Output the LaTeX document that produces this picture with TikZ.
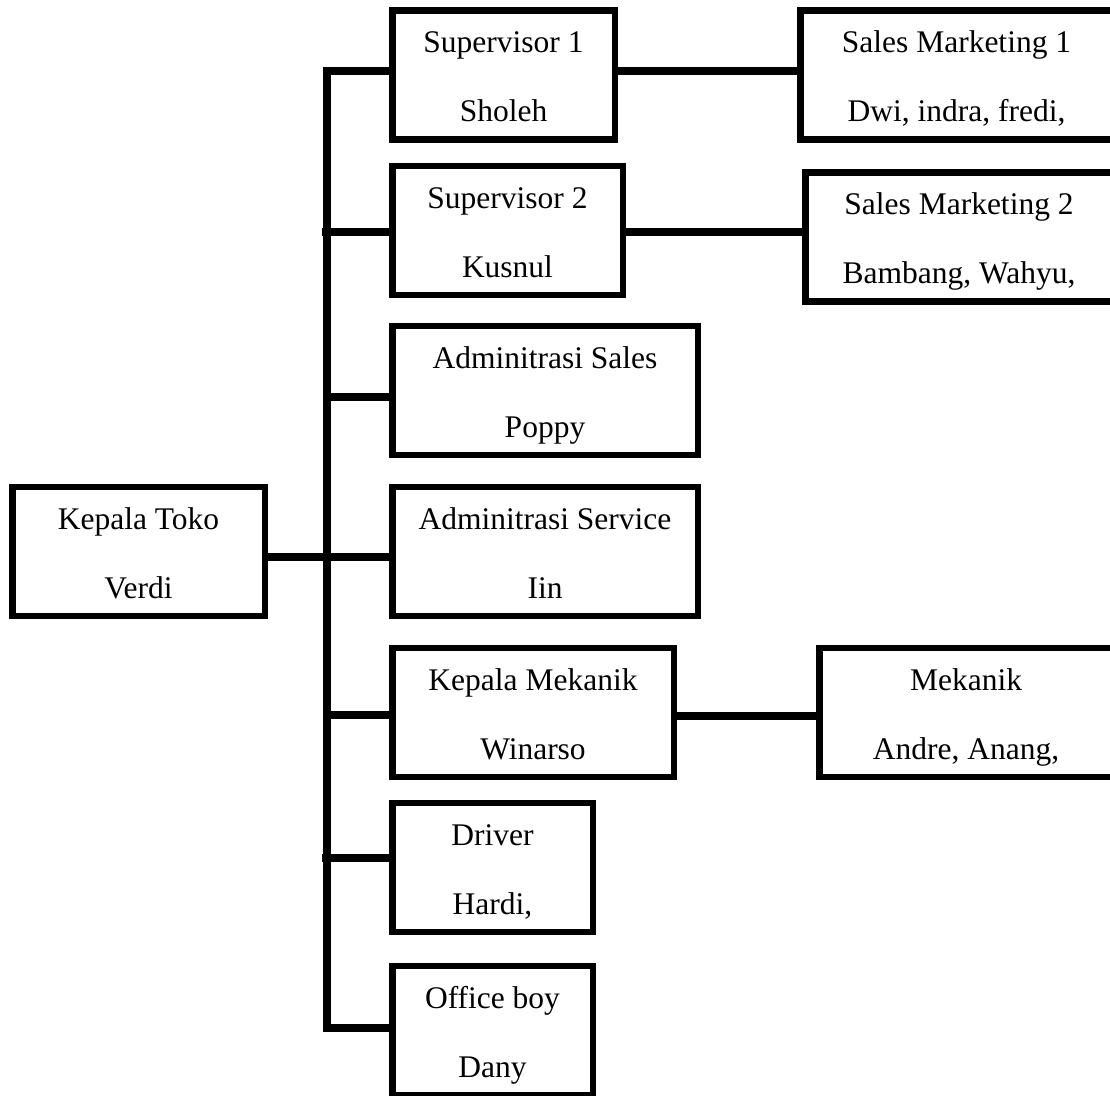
\documentclass[tikz,border=0pt]{standalone}
\usepackage{fontspec}
\setmainfont{Liberation Serif}
\newcommand{\orgstrut}{\rule[-8pt]{0pt}{40pt}}
\tikzset{
  orgbox/.style={draw=black, line width=6.5pt, rectangle, inner sep=0pt,
    minimum height=129pt, align=center, fill=white,
    font=\fontsize{31.5}{69}\selectfont},
  orgline/.style={draw=black, line width=8pt, line join=miter, line cap=butt}
}
\begin{document}
\begin{tikzpicture}[x=1pt,y=-1pt]
\useasboundingbox (0,0) rectangle (1110,1095);
\clip (0,0) rectangle (1110,1095);
\fill[white] (0,0) rectangle (1110,1095);

% boxes
\node[orgbox, minimum width=252.5pt] (kt)  at (138.5,551.5) {\orgstrut Kepala Toko\\\orgstrut Verdi};
\node[orgbox, minimum width=222.5pt] (s1)  at (503.5,75)    {\orgstrut Supervisor 1\\\orgstrut Sholeh};
\node[orgbox, minimum width=230.5pt] (s2)  at (507.5,230.5) {\orgstrut Supervisor 2\\\orgstrut Kusnul};
\node[orgbox, minimum width=312.5pt] (sm1) at (956.5,75)    {\orgstrut Sales Marketing 1\\\orgstrut Dwi, indra, fredi,};
\node[orgbox, minimum width=307.5pt] (sm2) at (959,237)     {\orgstrut Sales Marketing 2\\\orgstrut Bambang, Wahyu,};
\node[orgbox, minimum width=305.5pt] (as)  at (545,390.5)   {\orgstrut Adminitrasi Sales\\\orgstrut Poppy};
\node[orgbox, minimum width=305.5pt] (asv) at (545,551.5)   {\orgstrut Adminitrasi Service\\\orgstrut Iin};
\node[orgbox, minimum width=281.5pt] (km)  at (533,712.5)   {\orgstrut Kepala Mekanik\\\orgstrut Winarso};
\node[orgbox, minimum width=293.5pt] (mk)  at (966,712.5)   {\orgstrut Mekanik\\\orgstrut Andre, Anang,};
\node[orgbox, minimum width=200.5pt] (dr)  at (492.5,867.5) {\orgstrut Driver\\\orgstrut Hardi,};
\node[orgbox, minimum width=200.5pt] (ob)  at (492.5,1030.5){\orgstrut Office boy\\\orgstrut Dany};

% junctions on the trunk
\coordinate (j1) at (327,71);
\coordinate (j2) at (327,232);
\coordinate (j3) at (327,397);
\coordinate (j4) at (327,557);
\coordinate (j5) at (327,715);
\coordinate (j6) at (327,858);
\coordinate (j7) at (327,1028);

% trunk with top and bottom branches
\draw[orgline] (j1 -| s1.west) -- (j1) -- (j7) -- (j7 -| ob.west);
% branches
\draw[orgline] ([xshift=-5pt]j2) -- (j2 -| s2.west);
\draw[orgline] (j3) -- (j3 -| as.west);
\draw[orgline] (j4 -| kt.east) -- (j4 -| asv.west);
\draw[orgline] (j5) -- (j5 -| km.west);
\draw[orgline] ([xshift=-5pt]j6) -- (j6 -| dr.west);

% second level
\draw[orgline] (j1 -| s1.east) -- (j1 -| sm1.west);
\draw[orgline] (j2 -| s2.east) -- (j2 -| sm2.west);
\draw[orgline] ([yshift=-1pt]j5 -| km.east) -- ([yshift=-1pt]j5 -| mk.west);
\end{tikzpicture}
\end{document}
